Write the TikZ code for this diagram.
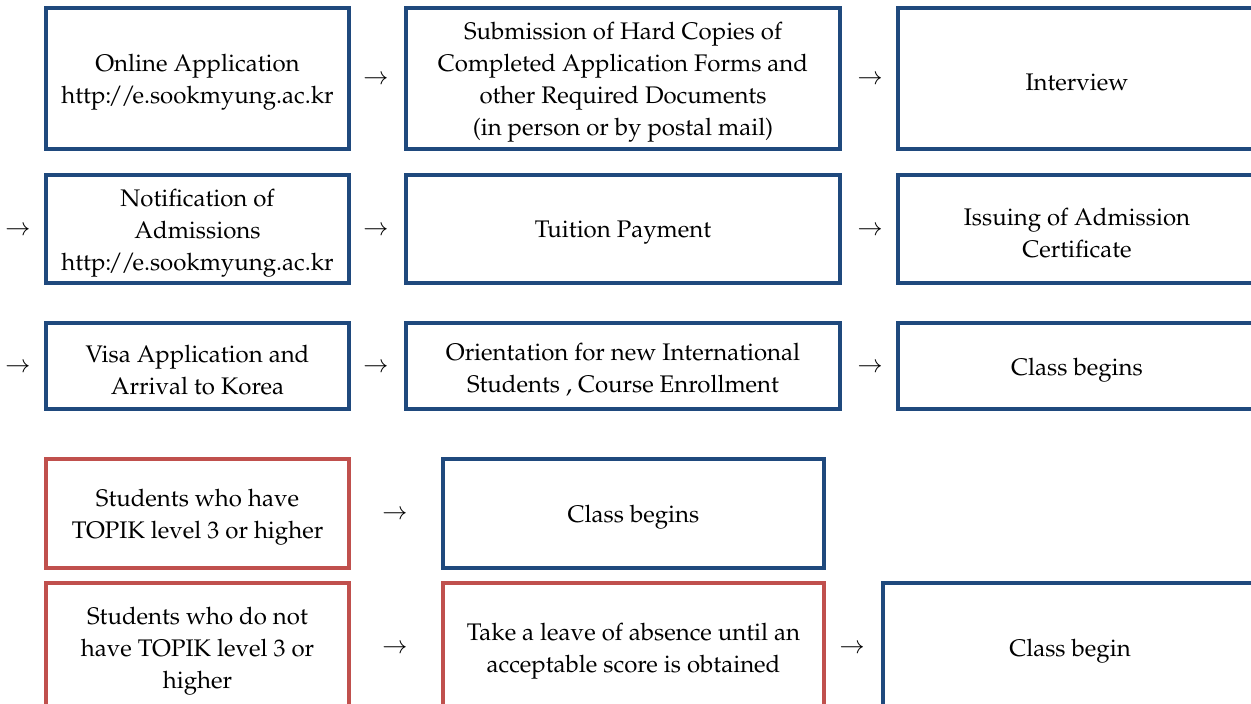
\documentclass[tikz,border=0pt]{standalone}
\usepackage[T1]{fontenc}
\usepackage{mathpazo}
\definecolor{boxblue}{HTML}{1F497D}
\definecolor{boxred}{HTML}{C0504D}
\newcommand{\smurl}{http:\kern-3pt/\kern-2pt/\kern-3pt e.sookmyung.ac.kr}
\tikzset{
  basebox/.style={draw, line width=4pt, rectangle, inner sep=0pt},
  bluebox/.style={basebox, draw=boxblue},
  redbox/.style={basebox, draw=boxred},
  boxtext/.style={align=center, inner sep=0pt, yshift=-4pt,
    font=\fontsize{24}{32}\selectfont, text=black},
  flowsign/.style={font=\fontsize{24}{32}\selectfont, inner sep=0pt, text=black, yshift=-2pt},
}
\begin{document}
\begin{tikzpicture}[x=1pt,y=-1pt]
\useasboundingbox[fill=white] (0,0) rectangle (1251,704);
% row 1
\node[bluebox, minimum width=303pt, minimum height=141pt] (a1) at (197.5,78.5) {};
\node[boxtext] (a1t) at (a1) {Online Application\\\smurl};
\node[bluebox, minimum width=434pt, minimum height=141pt] (b1) at (623,78.5) {};
\node[boxtext] (b1t) at (b1)
  {Submission of Hard Copies of\\Completed Application Forms and\\other Required Documents\\(in person or by postal mail)};
\node[bluebox, minimum width=358pt, minimum height=141pt] (c1) at (1077,78.5) {};
\node[boxtext] (c1t) at (c1) {Interview};
\node[flowsign] (f1a) at (376,78) {$\rightarrow$};
\node[flowsign] (f1b) at (870,78) {$\rightarrow$};
% row 2
\node[bluebox, minimum width=303pt, minimum height=108pt] (a2) at (197.5,229) {};
\node[boxtext] (a2t) at (a2) {Notification of\\Admissions\\\smurl};
\node[bluebox, minimum width=434pt, minimum height=108pt] (b2) at (623,229) {};
\node[boxtext] (b2t) at (b2) {Tuition Payment};
\node[bluebox, minimum width=358pt, minimum height=108pt] (c2) at (1077,229) {};
\node[boxtext] (c2t) at (c2) {Issuing of Admission\\Certificate};
\node[flowsign] (f2o) at (18,229) {$\rightarrow$};
\node[flowsign] (f2a) at (376,229) {$\rightarrow$};
\node[flowsign] (f2b) at (870,229) {$\rightarrow$};
% row 3
\node[bluebox, minimum width=303pt, minimum height=86pt] (a3) at (197.5,366) {};
\node[boxtext] (a3t) at (a3) {Visa Application and\\Arrival to Korea};
\node[bluebox, minimum width=434pt, minimum height=86pt] (b3) at (623,366) {};
\node[boxtext] (b3t) at (b3) {Orientation for new International\\Students , Course Enrollment};
\node[bluebox, minimum width=358pt, minimum height=86pt] (c3) at (1077,366) {};
\node[boxtext] (c3t) at (c3) {Class begins};
\node[flowsign] (f3o) at (18,366) {$\rightarrow$};
\node[flowsign] (f3a) at (376,366) {$\rightarrow$};
\node[flowsign] (f3b) at (870,366) {$\rightarrow$};
% row 4
\node[redbox, minimum width=303pt, minimum height=109pt] (a4) at (197.5,513.5) {};
\node[boxtext] (a4t) at (a4) {Students who have\\TOPIK level 3 or higher};
\node[bluebox, minimum width=381pt, minimum height=109pt] (b4) at (633.5,513.5) {};
\node[boxtext] (b4t) at (b4) {Class begins};
\node[flowsign] (f4a) at (395,513) {$\rightarrow$};
% row 5
\node[redbox, minimum width=303pt, minimum height=128pt] (a5) at (197.5,647) {};
\node[boxtext] (a5t) at (a5) {Students who do not\\have TOPIK level 3 or\\higher};
\node[redbox, minimum width=381pt, minimum height=128pt] (b5) at (633.5,647) {};
\node[boxtext] (b5t) at (b5) {Take a leave of absence until an\\acceptable score is obtained};
\node[bluebox, minimum width=374pt, minimum height=128pt] (c5) at (1070,647) {};
\node[boxtext] (c5t) at (c5) {Class begin};
\node[flowsign] (f5a) at (395,647) {$\rightarrow$};
\node[flowsign] (f5b) at (852,647) {$\rightarrow$};
\end{tikzpicture}
\end{document}
